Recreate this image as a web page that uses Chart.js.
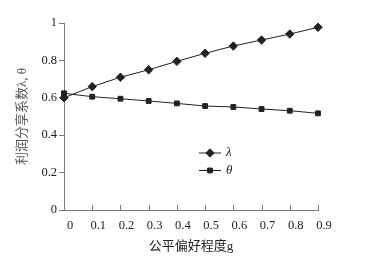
<!DOCTYPE html>
<html>
<head>
<meta charset="utf-8">
<script src="https://cdn.jsdelivr.net/npm/chart.js@4"></script>
<style>
html, body { margin: 0; padding: 0; background: #fff; }
#wrap { width: 366px; height: 260px; }
</style>
</head>
<body>
<div id="wrap"><canvas id="grafico"></canvas></div>
<script>
const categorias = ['0', '0.1', '0.2', '0.3', '0.4', '0.5', '0.6', '0.7', '0.8', '0.9']
const lambda_vals = [0.60, 0.66, 0.71, 0.75, 0.795, 0.838, 0.877, 0.909, 0.941, 0.977]
const theta_vals = [0.624, 0.606, 0.595, 0.583, 0.570, 0.556, 0.551, 0.540, 0.531, 0.517]
const y_ticks = [0, 0.2, 0.4, 0.6, 0.8, 1]

const serif = '"Liberation Serif", "Noto Sans CJK SC", serif'
const eje = '#7a7a7a'

// leyenda dentro del area de la grafica y marcas hacia dentro del eje x
const extras = {
    id: 'extras',
    afterDraw(chart) {
        const ctx = chart.ctx
        const x = chart.scales.x
        const area = chart.chartArea
        ctx.save()
        ctx.strokeStyle = eje
        ctx.lineWidth = 1
        categorias.forEach((c, i) => {
            const px = Math.round(x.getPixelForValue(i)) + 0.5
            ctx.beginPath()
            ctx.moveTo(px, area.bottom)
            ctx.lineTo(px, area.bottom - 5)
            ctx.stroke()
        })
        // leyenda
        const items = [
            { texto: 'λ', estilo: 'rectRot', radio: 4.2, y: 153 },
            { texto: 'θ', estilo: 'rect', radio: 3.4, y: 170.5 }
        ]
        items.forEach(it => {
            ctx.strokeStyle = '#222'
            ctx.fillStyle = '#222'
            ctx.beginPath()
            ctx.moveTo(199, it.y)
            ctx.lineTo(221, it.y)
            ctx.stroke()
            Chart.helpers.drawPoint(ctx, { pointStyle: it.estilo, radius: it.radio, borderWidth: 1 }, 210, it.y)
            ctx.font = 'italic 13px ' + serif
            ctx.textBaseline = 'middle'
            ctx.fillText(it.texto, 226, it.y)
        })
        ctx.restore()
    }
}

const ctxGrafico = document.getElementById('grafico').getContext('2d')

new Chart(ctxGrafico, {
    type: 'line',
    data: {
        labels: categorias,
        datasets: [{
            label: 'λ',
            data: lambda_vals,
            borderColor: '#222',
            backgroundColor: '#222',
            borderWidth: 1,
            pointStyle: 'rectRot',
            pointRadius: 4.2,
            pointBorderWidth: 1,
            tension: 0
        }, {
            label: 'θ',
            data: theta_vals,
            borderColor: '#222',
            backgroundColor: '#222',
            borderWidth: 1,
            pointStyle: 'rect',
            pointRadius: 3.4,
            pointBorderWidth: 1,
            tension: 0
        }]
    },
    options: {
        responsive: true,
        maintainAspectRatio: false,
        animation: false,
        layout: {
            padding: { left: 15, right: 48, top: 23, bottom: 0 }
        },
        scales: {
            x: {
                type: 'category',
                offset: false,
                afterFit: (s) => { s.height = 50 },
                grid: { display: false, drawTicks: false },
                border: { display: true, color: eje, width: 1 },
                ticks: {
                    color: '#222',
                    font: { family: serif, size: 12.5 },
                    padding: 8,
                    labelOffset: 6,
                    maxRotation: 0,
                    autoSkip: false
                },
                title: {
                    display: true,
                    text: '公平偏好程度g',
                    color: '#222',
                    font: { family: serif, size: 13 },
                    padding: { top: 4, bottom: 6 }
                }
            },
            y: {
                min: 0,
                max: 1,
                afterFit: (s) => { s.width = 49 },
                afterBuildTicks: (s) => { s.ticks = y_ticks.map(v => ({ value: v })) },
                grid: { display: true, drawOnChartArea: false, drawTicks: true, tickLength: 5, color: eje },
                border: { display: true, color: eje, width: 1 },
                ticks: {
                    color: '#222',
                    font: { family: serif, size: 12.5 },
                    padding: 2,
                    callback: (v) => String(Math.round(v * 10) / 10)
                },
                title: {
                    display: true,
                    text: '利润分享系数λ, θ',
                    color: '#555',
                    font: { family: serif, size: 13 },
                    padding: { top: 0, bottom: 4 }
                }
            }
        },
        plugins: {
            legend: { display: false },
            tooltip: { enabled: false },
            title: { display: false }
        }
    },
    plugins: [extras]
});
</script>
</body>
</html>
